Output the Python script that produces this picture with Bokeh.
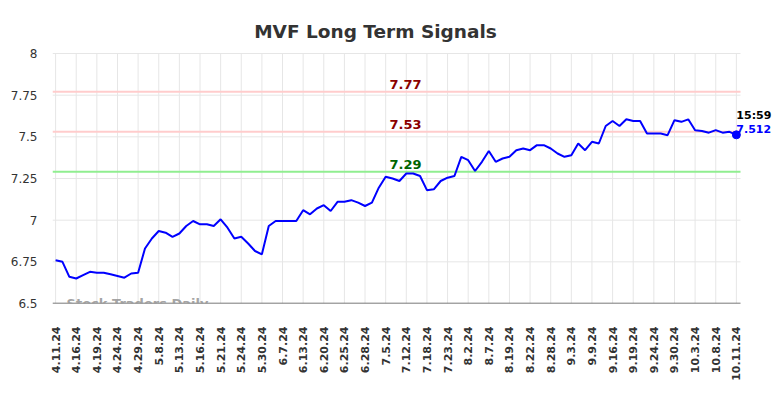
import numpy as np
from bokeh.plotting import figure
from bokeh.models import FixedTicker, Label, ColumnDataSource
from bokeh.embed import file_html
from bokeh.resources import INLINE

# ---- data ----
tick_labels = ["4.11.24", "4.16.24", "4.19.24", "4.24.24", "4.29.24", "5.8.24", "5.13.24",
               "5.16.24", "5.21.24", "5.24.24", "5.30.24", "6.7.24", "6.13.24", "6.20.24",
               "6.25.24", "6.28.24", "7.5.24", "7.12.24", "7.18.24", "7.23.24", "8.2.24",
               "8.7.24", "8.19.24", "8.22.24", "8.28.24", "9.3.24", "9.9.24", "9.16.24",
               "9.19.24", "9.24.24", "9.30.24", "10.3.24", "10.8.24", "10.11.24"]

prices = [6.76, 6.75, 6.66, 6.65, 6.67, 6.69, 6.685, 6.685, 6.675, 6.665,
          6.655, 6.68, 6.685, 6.83, 6.89, 6.935, 6.925, 6.90, 6.92, 6.965,
          6.995, 6.975, 6.975, 6.965, 7.005, 6.955, 6.89, 6.90, 6.86, 6.815,
          6.795, 6.965, 6.995, 6.995, 6.995, 6.995, 7.06, 7.035, 7.07, 7.09,
          7.055, 7.11, 7.11, 7.12, 7.105, 7.085, 7.105, 7.195, 7.26, 7.25,
          7.235, 7.28, 7.28, 7.265, 7.18, 7.185, 7.235, 7.255, 7.265, 7.38,
          7.36, 7.295, 7.35, 7.415, 7.35, 7.37, 7.38, 7.42, 7.43, 7.42,
          7.45, 7.45, 7.43, 7.40, 7.38, 7.39, 7.46, 7.42, 7.47, 7.46,
          7.565, 7.595, 7.565, 7.605, 7.595, 7.595, 7.52, 7.52, 7.52, 7.51,
          7.60, 7.59, 7.605, 7.54, 7.535, 7.525, 7.54, 7.525, 7.53, 7.512]

resistance_levels = [7.77, 7.53]
support_levels = [7.29]
y_ticks = [6.5, 6.75, 7.0, 7.25, 7.5, 7.75, 8.0]
y_tick_labels = ["6.5", "6.75", "7", "7.25", "7.5", "7.75", "8"]
last_time = "15:59"
title_text = "MVF Long Term Signals"
tick_step = 3

x = list(range(len(prices)))
FONT = "DejaVu Sans"

# frame covers the whole canvas except left axis & bottom labels; series area is a sub-region
x_lo = -0.45
x_hi = len(prices) - 0.4
W, H = 784, 390
left_b, bot_b = 52, 87
area_w, area_h, area_top = 688.0, 250.0, 53.0
px_x = area_w / (x_hi - x_lo)
px_y = area_h / (y_ticks[-1] - y_ticks[0])
x_end = x_lo + (W - left_b) / px_x
y_end = y_ticks[-1] + area_top / px_y

p = figure(width=W, height=H, output_backend="svg", toolbar_location=None,
           x_range=(x_lo, x_end), y_range=(y_ticks[0], y_end),
           min_border_left=left_b, min_border_right=0, min_border_top=0,
           min_border_bottom=bot_b)
p.outline_line_color = None
p.background_fill_color = "white"
p.border_fill_color = "white"

# x axis
xt = list(range(0, len(prices), tick_step))
p.xaxis.ticker = FixedTicker(ticks=xt)
p.xaxis.major_label_overrides = {t: lab for t, lab in zip(xt, tick_labels)}
p.xaxis.major_label_orientation = np.pi / 2
p.xaxis.major_label_text_font = FONT
p.xaxis.major_label_text_font_size = "11px"
p.xaxis.major_label_text_font_style = "bold"
p.xaxis.major_label_text_color = "#333333"
p.xaxis.major_label_standoff = 17
p.xaxis.major_tick_line_color = None
p.xaxis.minor_tick_line_color = None
p.xaxis.axis_line_color = None

# y axis
p.yaxis.ticker = FixedTicker(ticks=y_ticks)
p.yaxis.major_label_overrides = {t: lab for t, lab in zip(y_ticks, y_tick_labels)}
p.yaxis.major_label_text_font = FONT
p.yaxis.major_label_text_font_size = "12px"
p.yaxis.major_label_text_color = "#333333"
p.yaxis.major_label_standoff = 15
p.yaxis.major_tick_out = 0
p.yaxis.major_tick_in = 0
p.yaxis.major_tick_line_color = None
p.yaxis.minor_tick_line_color = None
p.yaxis.axis_line_color = None

p.xgrid.grid_line_color = None
p.ygrid.grid_line_color = None

# grid limited to the series area
p.segment(x0=[x_lo] * len(y_ticks), x1=[x_hi] * len(y_ticks), y0=y_ticks, y1=y_ticks,
          line_color="#e6e6e6", line_width=1)
p.segment(x0=xt, x1=xt, y0=[y_ticks[0]] * len(xt), y1=[y_ticks[-1]] * len(xt),
          line_color="#e6e6e6", line_width=1)

# level lines
p.segment(x0=[x_lo] * len(resistance_levels), x1=[x_hi] * len(resistance_levels),
          y0=resistance_levels, y1=resistance_levels, line_color="#ffcccc", line_width=2)
p.segment(x0=[x_lo] * len(support_levels), x1=[x_hi] * len(support_levels),
          y0=support_levels, y1=support_levels, line_color="#90ee90", line_width=2)

# bottom axis line
p.segment(x0=[x_lo], x1=[x_hi], y0=[y_ticks[0]], y1=[y_ticks[0]],
          line_color="#555555", line_width=1.5)

# title
p.add_layout(Label(x=x_lo + (375 - left_b) / px_x, y=y_ticks[-1], y_offset=22,
                   text=title_text, text_align="center", text_baseline="alphabetic",
                   text_font=FONT, text_font_size="18.5px", text_font_style="bold",
                   text_color="#333333"))

mid = 50.9
for lv in resistance_levels:
    p.add_layout(Label(x=mid, y=lv, text=f"{lv:.2f}", text_align="center", y_offset=3,
                       text_font=FONT, text_font_size="13px", text_font_style="bold",
                       text_color="#8b0000"))
for lv in support_levels:
    p.add_layout(Label(x=mid, y=lv, text=f"{lv:.2f}", text_align="center", y_offset=3,
                       text_font=FONT, text_font_size="13px", text_font_style="bold",
                       text_color="#006400"))

src = ColumnDataSource(dict(x=x, y=prices))
p.line("x", "y", source=src, line_color="#0000ff", line_width=2)
p.scatter([x[-1]], [prices[-1]], size=8, color="#0000ff")

p.add_layout(Label(x=x[-1], y=prices[-1], text=last_time, y_offset=19, x_offset=0,
                   text_baseline="alphabetic",
                   text_font=FONT, text_font_size="11px", text_font_style="bold",
                   text_color="black"))
p.add_layout(Label(x=x[-1], y=prices[-1], text=f"{prices[-1]:.3f}", y_offset=6, x_offset=0,
                   text_baseline="alphabetic",
                   text_font=FONT, text_font_size="11px", text_font_style="bold",
                   text_color="#0000ff"))

p.add_layout(Label(x=1.6, y=y_ticks[0], text="Stock Traders Daily", text_baseline="middle",
                   text_font=FONT, text_font_size="13px", text_font_style="bold",
                   text_color="#999999", text_alpha=0.9))

open("out.html", "w").write(file_html(p, INLINE))
